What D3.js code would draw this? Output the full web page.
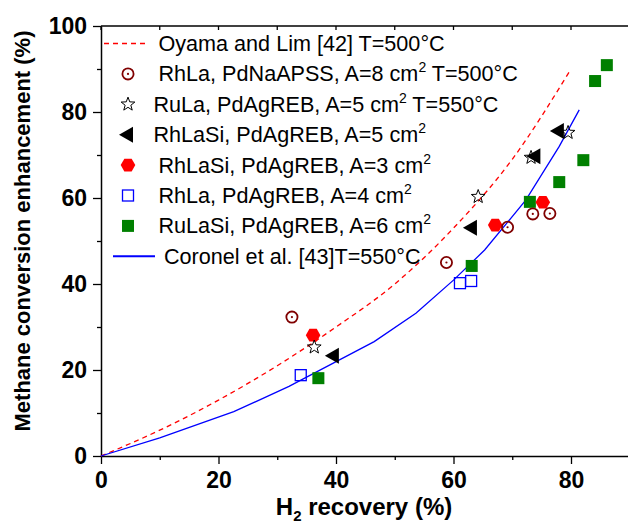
<!DOCTYPE html>
<html>
<head>
<meta charset="utf-8">
<script src="https://cdn.jsdelivr.net/npm/d3@7"></script>
<style>
  body { margin: 0; background: #fff; }
  svg { display: block; }
</style>
</head>
<body>
<script>
// Data
var oyamaLine = [[0,0],[10,6],[20,13],[30,21],[40,30],[50,40],[60,53],[70,69],[80,90]];
var coronelLine = [[0,0],[10,4.2],[22.6,10.3],[32,16.2],[46.5,26.6],[53.6,33.2],[60,40.9],[65.3,47.9],[72.3,59.5],[78,72],[81.4,80.5]];

var rhLaNaAPSS = [[32.5,32.3],[58.8,45.0],[69.2,53.2],[73.5,56.3],[76.4,56.4]];
var ruLaAgREB5 = [[36.3,25.3],[64.2,60.3],[73.2,69.4],[79.5,75.2]];
var rhLaSiAgREB5 = [[39.3,23.3],[62.8,53.1],[73.6,69.7],[77.6,75.6]];
var rhLaSiAgREB3 = [[36.1,28.1],[67.1,53.7],[75.2,59.0]];
var rhLaAgREB4 = [[34.0,18.8],[61.1,40.2],[63.0,40.7]];
var ruLaSiAgREB6 = [[37.0,18.1],[63.1,44.2],[73.0,59.1],[78.0,63.7],[82.1,68.8],[84.1,87.2],[86.1,90.9]];

var legendLabels = [
  "Oyama and Lim [42] T=500°C",
  "RhLa, PdNaAPSS, A=8 cm^2 T=500°C",
  "RuLa, PdAgREB, A=5 cm^2 T=550°C",
  "RhLaSi, PdAgREB, A=5 cm^2",
  "RhLaSi, PdAgREB, A=3 cm^2",
  "RhLa, PdAgREB, A=4 cm^2",
  "RuLaSi, PdAgREB, A=6 cm^2",
  "Coronel et al. [43]T=550°C"
];
var xMajor = [0, 20, 40, 60, 80];
var xMinor = [10, 30, 50, 70, 90];
var yMajor = [0, 20, 40, 60, 80, 100];
var yMinor = [10, 30, 50, 70, 90];

var W = 628, H = 525;
var svg = d3.select("body").append("svg")
    .attr("width", W)
    .attr("height", H)
    .style("font-family", "'Liberation Sans', Arial, sans-serif");

var x = d3.scaleLinear().domain([0, 90]).range([101, 629.75]);
var y = d3.scaleLinear().domain([0, 100]).range([456, 26]);

// frame: top border with small inward ticks
svg.append("line")
    .attr("x1", x(0)).attr("x2", W).attr("y1", y(100)).attr("y2", y(100))
    .attr("stroke", "#000").attr("stroke-width", 1.5);
svg.selectAll(".ttick").data(xMajor.concat(xMinor)).enter().append("line")
    .attr("x1", function(d) { return x(d); }).attr("x2", function(d) { return x(d); })
    .attr("y1", y(100)).attr("y2", y(100) + 4)
    .attr("stroke", "#000").attr("stroke-width", 1.3);

// bottom axis (major and minor ticks in separate groups)
svg.append("g").attr("class", "minor").attr("transform", "translate(0," + y(0) + ")")
    .call(d3.axisBottom(x).tickValues(xMinor).tickSize(4).tickFormat("").tickSizeOuter(0));
var gx = svg.append("g").attr("transform", "translate(0," + y(0) + ")")
    .call(d3.axisBottom(x).tickValues(xMajor).tickSize(8).tickPadding(8).tickSizeOuter(0));

// left axis
svg.append("g").attr("class", "minor").attr("transform", "translate(" + x(0) + ",0)")
    .call(d3.axisLeft(y).tickValues(yMinor).tickSize(4).tickFormat("").tickSizeOuter(0));
var gy = svg.append("g").attr("transform", "translate(" + x(0) + ",0)")
    .call(d3.axisLeft(y).tickValues(yMajor).tickSize(8).tickPadding(6).tickSizeOuter(0));

svg.selectAll(".minor .domain").remove();
svg.selectAll(".domain").attr("stroke-width", 1.5);
svg.selectAll(".tick line").attr("stroke-width", 1.3);
svg.selectAll(".tick text")
    .attr("font-family", "'Liberation Sans', Arial, sans-serif")
    .attr("font-size", 23)
    .attr("font-weight", "bold")
    .attr("fill", "#000");

// axis titles
var xt = svg.append("text")
    .attr("x", 364).attr("y", 515)
    .attr("text-anchor", "middle")
    .attr("font-size", 24).attr("font-weight", "bold");
xt.append("tspan").text("H");
xt.append("tspan").attr("dy", 6).attr("font-size", 15).text("2");
xt.append("tspan").attr("dy", -6).text(" recovery (%)");

svg.append("text")
    .attr("transform", "translate(30,231) rotate(-90)")
    .attr("text-anchor", "middle")
    .attr("font-size", 22).attr("font-weight", "bold")
    .text("Methane conversion enhancement (%)");

// lines
var line = d3.line()
    .x(function(d) { return x(d[0]); })
    .y(function(d) { return y(d[1]); })
    .curve(d3.curveMonotoneX);

svg.append("path").datum(oyamaLine)
    .attr("d", line).attr("fill", "none")
    .attr("stroke", "#ff0000").attr("stroke-width", 1.3)
    .attr("stroke-dasharray", "5,4");

svg.append("path").datum(coronelLine)
    .attr("d", d3.line().x(function(d) { return x(d[0]); }).y(function(d) { return y(d[1]); }))
    .attr("fill", "none")
    .attr("stroke", "#0000ff").attr("stroke-width", 1.3);

// marker shapes
function hexPath(r) {
  var p = [];
  for (var i = 0; i < 6; i++) {
    var a = Math.PI / 3 * i;
    p.push([r * Math.cos(a), r * Math.sin(a)]);
  }
  return "M" + p.join("L") + "Z";
}
function starPath(ro, ri) {
  var p = [];
  for (var i = 0; i < 10; i++) {
    var a = -Math.PI / 2 + Math.PI / 5 * i;
    var r = i % 2 ? ri : ro;
    p.push([r * Math.cos(a), r * Math.sin(a)]);
  }
  return "M" + p.join("L") + "Z";
}
var triPath = "M-7,0L7,-8L7,8Z";

var symbols = {
  greenSq: function(g) {
    g.append("rect").attr("x", -6).attr("y", -6).attr("width", 12).attr("height", 12)
      .attr("fill", "#008000");
  },
  blueSq: function(g) {
    g.append("rect").attr("x", -5.5).attr("y", -5.5).attr("width", 11).attr("height", 11)
      .attr("fill", "none").attr("stroke", "#0000ff").attr("stroke-width", 1.3);
  },
  hex: function(g) {
    g.append("path").attr("d", hexPath(7.3)).attr("fill", "#ff0000");
  },
  tri: function(g) {
    g.append("path").attr("d", triPath).attr("fill", "#000");
  },
  star: function(g) {
    g.append("path").attr("d", starPath(7.2, 3)).attr("fill", "none")
      .attr("stroke", "#000").attr("stroke-width", 1);
  },
  circ: function(g) {
    g.append("circle").attr("r", 5.6).attr("fill", "none")
      .attr("stroke", "#800000").attr("stroke-width", 1.8);
    g.append("circle").attr("r", 1.1).attr("fill", "#800000");
  }
};

function drawSeries(data, sym) {
  svg.append("g").selectAll("g").data(data).enter().append("g")
      .attr("transform", function(d) { return "translate(" + x(d[0]) + "," + y(d[1]) + ")"; })
      .each(function() { symbols[sym](d3.select(this)); });
}

drawSeries(ruLaSiAgREB6, "greenSq");
drawSeries(rhLaAgREB4, "blueSq");
drawSeries(rhLaSiAgREB3, "hex");
drawSeries(rhLaSiAgREB5, "tri");
drawSeries(ruLaAgREB5, "star");
drawSeries(rhLaNaAPSS, "circ");

// legend
var legSym = [null, "circ", "star", "tri", "hex", "blueSq", "greenSq", null];
var legTextX = [158.5, 158.5, 153.5, 153.5, 158.5, 158.5, 158.5, 164];
var legY0 = 43.5, legDy = 30.4;

legendLabels.forEach(function(lab, i) {
  var ly = legY0 + i * legDy;
  if (i === 0) {
    svg.append("line").attr("x1", 104).attr("x2", 149).attr("y1", ly).attr("y2", ly)
      .attr("stroke", "#ff0000").attr("stroke-width", 1.3).attr("stroke-dasharray", "5,4");
  } else if (i === legendLabels.length - 1) {
    svg.append("line").attr("x1", 113).attr("x2", 155).attr("y1", ly).attr("y2", ly)
      .attr("stroke", "#0000ff").attr("stroke-width", 2);
  } else {
    var g = svg.append("g").attr("transform", "translate(" + (legSym[i] === "tri" ? 126 : 128) + "," + ly + ")");
    symbols[legSym[i]](g);
  }
  var t = svg.append("text").attr("x", legTextX[i]).attr("y", ly + 7.5)
      .attr("font-size", 21.6).attr("fill", "#000");
  var parts = lab.split("^2");
  t.append("tspan").text(parts[0]);
  if (parts.length > 1) {
    t.append("tspan").attr("dy", -9).attr("font-size", 14).text("2");
    if (parts[1]) t.append("tspan").attr("dy", 9).text(parts[1]);
  }
});
</script>
</body>
</html>
